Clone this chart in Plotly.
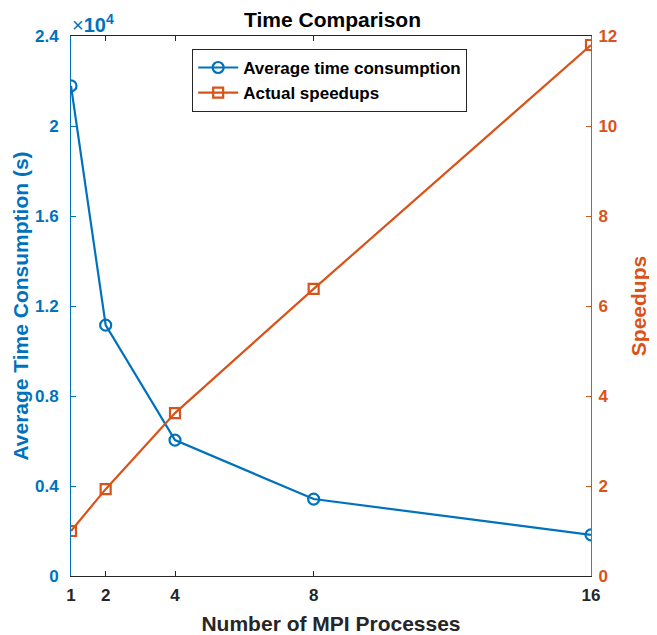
import plotly.graph_objects as go

processes = [1, 2, 4, 8, 16]
avg_time = [21780, 11150, 6040, 3420, 1830]
speedups = [1.0, 1.93, 3.62, 6.38, 11.8]

x_ticks = [1, 2, 4, 8, 16]
y_ticks = [0, 4000, 8000, 12000, 16000, 20000, 24000]
y_tick_labels = ["0", "0.4", "0.8", "1.2", "1.6", "2", "2.4"]
y2_ticks = [0, 2, 4, 6, 8, 10, 12]

BLUE = "#0072BD"
ORANGE = "#D95319"
DARK = "#262626"
FONT = "Liberation Sans"

# page body has an 8px margin, so the figure is shifted by 8px
W, H = 649, 627

fig = go.Figure()
fig.add_trace(go.Scatter(
    x=processes, y=avg_time, name="<b>Average time consumption</b>",
    mode="lines+markers",
    line=dict(color=BLUE, width=2.2),
    marker=dict(symbol="circle-open", size=11, color=BLUE, line=dict(width=2.2)),
    yaxis="y"))
fig.add_trace(go.Scatter(
    x=processes, y=speedups, name="<b>Actual speedups</b>",
    mode="lines+markers",
    line=dict(color=ORANGE, width=2.2),
    marker=dict(symbol="square-open", size=10, color=ORANGE, line=dict(width=2.2)),
    yaxis="y2"))

fig.update_layout(
    width=W, height=H,
    margin=dict(l=63, r=66, t=28, b=59, autoexpand=False),
    paper_bgcolor="white", plot_bgcolor="white",
    font=dict(family=FONT, size=17, color=DARK),
    title=dict(text="<b>Time Comparison</b>", x=0.5, xanchor="center",
               y=1 - 12 / H, yanchor="middle",
               font=dict(family=FONT, size=21, color="black")),
    xaxis=dict(
        range=[1, 16], tickvals=x_ticks, ticktext=[f"<b>{v}</b>" for v in x_ticks],
        ticks="inside", ticklen=5, tickcolor=DARK, showgrid=False, zeroline=False,
        showline=True, linecolor=DARK, linewidth=1, mirror="ticks",
        ticklabelstandoff=4,
        tickfont=dict(family=FONT, size=17, color=DARK),
        title=dict(text="<b>Number of MPI Processes</b>", standoff=12,
                   font=dict(family=FONT, size=21, color=DARK)),
    ),
    yaxis=dict(
        range=[0, 24000], tickvals=y_ticks,
        ticktext=[f"<b>{t}</b>" for t in y_tick_labels],
        ticks="inside", ticklen=5, tickcolor=BLUE, showgrid=False, zeroline=False,
        showline=True, linecolor=BLUE, linewidth=1,
        ticklabelstandoff=8,
        tickfont=dict(family=FONT, size=17, color=BLUE),
        title=dict(text="<b>Average Time Consumption (s)</b>", standoff=0,
                   font=dict(family=FONT, size=21, color=BLUE)),
    ),
    yaxis2=dict(
        range=[0, 12], tickvals=y2_ticks, ticktext=[f"<b>{v}</b>" for v in y2_ticks],
        overlaying="y", side="right",
        ticks="inside", ticklen=5, tickcolor=ORANGE, showgrid=False, zeroline=False,
        showline=True, linecolor=ORANGE, linewidth=1,
        ticklabelstandoff=3,
        tickfont=dict(family=FONT, size=17, color=ORANGE),
        title=dict(text="<b>Speedups</b>", standoff=14,
                   font=dict(family=FONT, size=21, color=ORANGE)),
    ),
    legend=dict(
        x=0.233, y=0.976, xanchor="left", yanchor="top",
        bgcolor="white", bordercolor=DARK, borderwidth=1,
        font=dict(family=FONT, size=17, color="black"),
        tracegroupgap=0, itemwidth=40,
    ),
    showlegend=True,
)

fig.add_annotation(
    x=0, y=1, xref="paper", yref="paper", xanchor="left", yanchor="bottom",
    text="×<b>10<sup>4</sup></b>", showarrow=False, yshift=-2, xshift=-1,
    font=dict(family=FONT, size=20, color=BLUE))

fig.write_html("out.html")
